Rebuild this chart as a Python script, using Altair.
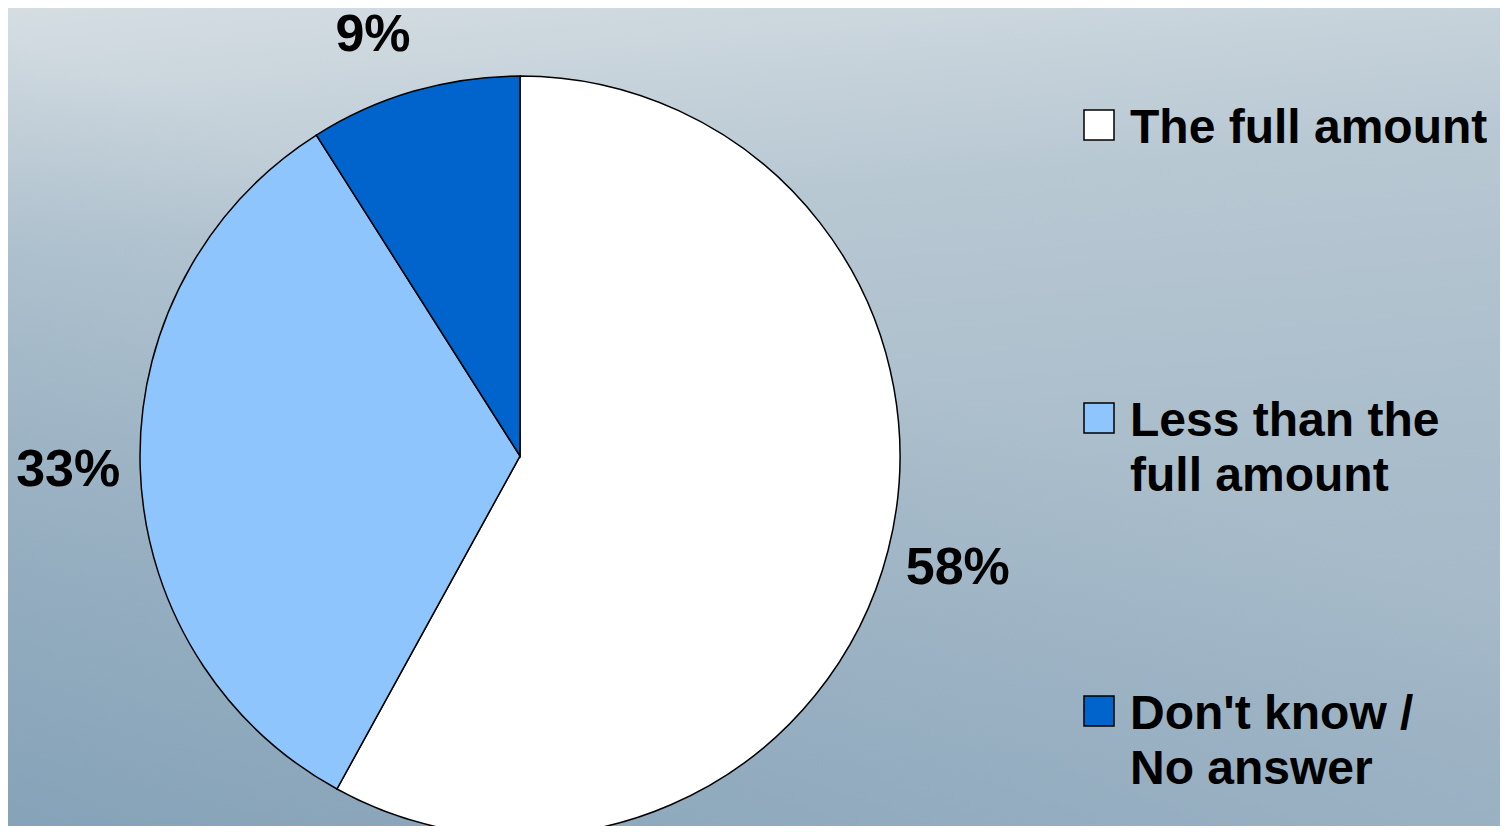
import altair as alt
import pandas as pd

categories = ["The full amount", "Less than the full amount", "Don't know / No answer"]
legend_labels = ["The full amount", "Less than the\nfull amount", "Don't know /\nNo answer"]
values = [58, 33, 9]
pct_labels = ["58%", "33%", "9%"]
colors = ["#FFFFFF", "#8FC5FD", "#0064CC"]

W, H = 1492, 818
CX, CY, R = 512, 448, 380

df = pd.DataFrame({
    "category": categories,
    "value": values,
    "label": pct_labels,
    "legend": legend_labels,
    "idx": list(range(len(categories))),
})

color = alt.Color("category:N", sort=categories,
                  scale=alt.Scale(domain=categories, range=colors), legend=None)

one = pd.DataFrame({"a": [0]})
full = dict(x=alt.value(-8), x2=alt.value(W + 8), y=alt.value(-8), y2=alt.value(H + 8))

bg = alt.Chart(one).mark_rect(
    color=alt.Gradient(
        gradient="linear", x1=0, y1=0, x2=0.15, y2=1,
        stops=[alt.GradientStop(color="#d6dee3", offset=0),
               alt.GradientStop(color="#b8c8d3", offset=0.3),
               alt.GradientStop(color="#aabdcb", offset=0.65),
               alt.GradientStop(color="#a2b7c7", offset=1)]
    )
).encode(**full)

bg2 = alt.Chart(one).mark_rect(
    color=alt.Gradient(
        gradient="linear", x1=0, y1=1, x2=0.45, y2=0.35,
        stops=[alt.GradientStop(color="rgba(110,145,172,0.55)", offset=0),
               alt.GradientStop(color="rgba(110,145,172,0)", offset=1)]
    )
).encode(**full)

base = alt.Chart(df).encode(
    theta=alt.Theta("value:Q", stack=True),
    order=alt.Order("idx:Q"),
    x=alt.value(CX), y=alt.value(CY),
)

pie = base.mark_arc(radius=R, stroke="black", strokeWidth=1.5).encode(color=color)

txt_style = dict(font="Liberation Sans", fontWeight="bold", fontSize=52,
                 color="black", align="center", baseline="middle")

pct_main = base.mark_text(radius=452, **txt_style).encode(
    text="t:N").transform_calculate(t="datum.idx < 2 ? datum.label : ''")
pct_small = base.mark_text(radius=448, dx=-22, dy=9, **txt_style).encode(
    text="t:N").transform_calculate(t="datum.idx == 2 ? datum.label : ''")

ypos = alt.Y("idx:Q", scale=alt.Scale(domain=[0, 2], range=[117, 703]), axis=None)

leg_sq = alt.Chart(df).mark_square(size=900, stroke="black", strokeWidth=1.5,
                                   opacity=1).encode(
    x=alt.value(1091), y=ypos,
    fill=alt.Fill("category:N", sort=categories,
                  scale=alt.Scale(domain=categories, range=colors), legend=None))

leg_tx = alt.Chart(df).mark_text(align="left", baseline="alphabetic", dy=18,
                                 lineBreak="\n", lineHeight=55,
                                 font="Liberation Sans", fontWeight="bold",
                                 fontSize=48, color="black").encode(
    x=alt.value(1122), y=ypos, text="legend:N")

chart = alt.layer(bg, bg2, pie, pct_main, pct_small, leg_sq, leg_tx).properties(
    width=W, height=H, padding=0, autosize=alt.AutoSizeParams(type="none")
).configure_view(stroke=None).configure(background="#b0c2cf")

chart.save("out.html", embed_options={"renderer": "svg", "actions": False})
